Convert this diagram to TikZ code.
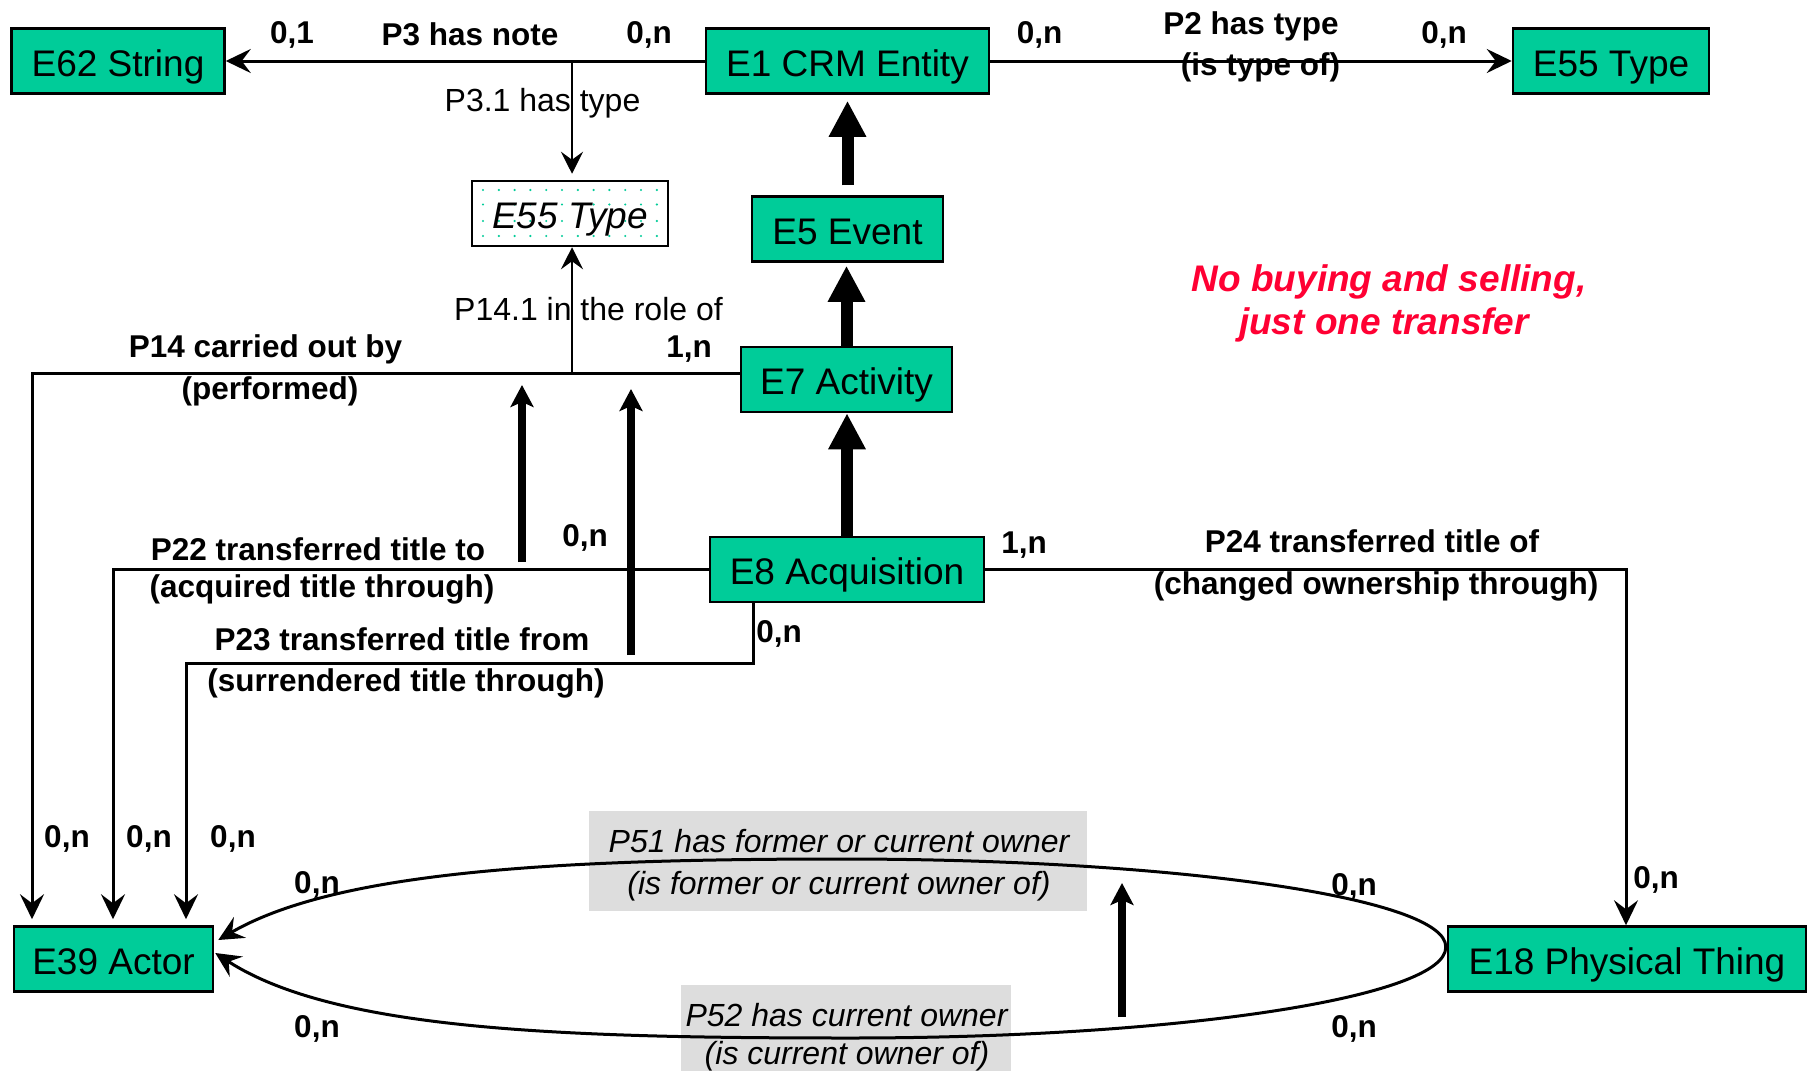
\documentclass[tikz,border=0pt]{standalone}
\usepackage{fontspec}
\setmainfont{Liberation Sans}
\usetikzlibrary{arrows.meta,calc}
\definecolor{crmgreen}{RGB}{0,204,153}
\definecolor{notered}{RGB}{255,0,51}
\definecolor{labelgray}{RGB}{221,221,221}

\begin{document}
\begin{tikzpicture}[x=1pt,y=-1pt,
  entity/.style={draw=black, line width=2.5pt, fill=crmgreen, inner sep=0pt,
    font=\fontsize{37}{44}\selectfont, text height=30pt, text depth=0pt,
    minimum height=65pt},
  typebox/.style={entity, fill=white, font=\fontsize{37}{44}\selectfont\itshape,
    path picture={
      \foreach \i in {0,...,11}
        \foreach \j in {9,23.5,40,55}
          \fill[crmgreen] ([xshift={11pt+15.8pt*\i}, yshift={-\j pt}]path picture bounding box.north west) circle[radius=1.2pt];
    }},
  graybox/.style={fill=labelgray, inner sep=0pt},
  card/.style={font=\fontsize{31.5}{38}\selectfont\bfseries, anchor=base, inner sep=0pt},
  plain/.style={font=\fontsize{32}{38}\selectfont, anchor=base, inner sep=0pt},
  ital/.style={font=\fontsize{32}{38}\selectfont\itshape, anchor=base, inner sep=0pt},
  remark/.style={font=\fontsize{37}{44}\selectfont\bfseries\itshape, text=notered, anchor=base, inner sep=0pt},
  rel/.style={line width=3pt, -{Stealth[length=25pt,width=24pt,inset=9pt]}},
  thinrel/.style={line width=1.5pt, -{Stealth[length=22pt,width=22pt,inset=8pt]}},
  isa/.style={line width=12pt, -{Triangle[length=36pt,width=35pt]}},
  pp/.style={line width=8pt, -{Stealth[length=22pt,width=23pt,inset=5pt]}}
]
\useasboundingbox (0,0) rectangle (1808,1071);

% gray label panels behind the ownership properties
\node[graybox, minimum width=498pt, minimum height=100pt] (p51box) at (838,861) {};
\node[graybox, minimum width=330pt, minimum height=90pt] (p52box) at (846,1030) {};

% classes
\node[entity, minimum width=213pt] (E62) at (118,61) {E62 String};
\node[entity, minimum width=283pt] (E1) at (847.5,61) {E1 CRM Entity};
\node[entity, minimum width=196pt] (E55) at (1611,61) {E55 Type};
\node[typebox, minimum width=196pt] (E55i) at (570,213.5) {E55 Type};
\node[entity, minimum width=191pt] (E5) at (847.5,229) {E5 Event};
\node[entity, minimum width=211pt] (E7) at (846.5,379.5) {E7 Activity};
\node[entity, minimum width=274pt] (E8) at (847,569.5) {E8 Acquisition};
\node[entity, minimum width=199pt] (E39) at (113.5,959) {E39 Actor};
\node[entity, minimum width=358pt] (E18) at (1627,959) {E18 Physical Thing};

% subclass hierarchy
\draw[isa, shorten <=10pt, shorten >=6pt] (E5.north) -- (E1.south);
\draw[isa, shorten >=3pt] (E7.north) -- (E7.north |- E5.south);
\draw[isa] (E8.north) -- (E8.north |- E7.south);

% P3 has note and P2 has type
\draw[rel] (E1.west) -- (E62.east);
\draw[rel] (E1.east) -- (E55.west);
\coordinate (p31) at (572,61);
\draw[thinrel, shorten >=6pt] (p31) -- (p31 |- E55i.north);

% P14 carried out by, with P14.1 in the role of
\coordinate (p14bend) at (32,373);
\draw[rel, shorten >=6pt] (E7.west |- p14bend) -- (p14bend) -- (p14bend |- E39.north);
\coordinate (p141) at (572,373);
\draw[thinrel] (p141) -- (p141 |- E55i.south);

% P22, P23, P24
\coordinate (p22bend) at (113,569.5);
\draw[rel, shorten >=6pt] (E8.west) -- (p22bend) -- (p22bend |- E39.north);
\coordinate (p23a) at (753,663);
\coordinate (p23b) at (186,663);
\draw[rel, shorten >=6pt] (p23a |- E8.south) -- (p23a) -- (p23b) -- (p23b |- E39.north);
\coordinate (p24bend) at (1626,569.5);
\draw[rel] (E8.east) -- (p24bend) -- (p24bend |- E18.north);

% P51 / P52 ownership loop
\coordinate (loopR) at ($(E18.west)+(-1,-12)$);
\coordinate (top51) at (842,859);
\coordinate (bot52) at (850,1038);
\draw[rel] (loopR) .. controls (1447,898) and (1176,859) .. (top51)
  .. controls (560,859) and (337,871) .. ($(E39.east)+(4,-19)$);
\draw[rel] (loopR) .. controls (1447,997) and (1180,1038) .. (bot52)
  .. controls (560,1038) and (334,1030) .. ($(E39.east)+(1,-6)$);

% property-of-property arrows
\coordinate (pp1s) at (522,562); \coordinate (pp1e) at (522,385);
\coordinate (pp2s) at (631,655); \coordinate (pp2e) at (631,389);
\coordinate (pp3s) at (1122,1017); \coordinate (pp3e) at (1122,883);
\draw[pp] (pp1s) -- (pp1e);
\draw[pp] (pp2s) -- (pp2e);
\draw[pp] (pp3s) -- (pp3e);

% labels
\node[card] (c1) at (292,43) {0,1};
\node[card] (l3) at (470,45) {P3 has note};
\node[card] (c2) at (649,43) {0,n};
\node[card] (c3) at (1039.5,43) {0,n};
\node[card] (l2a) at (1251,34) {P2 has type};
\node[card] (l2b) at (1260.5,75) {(is type of)};
\node[card] (c4) at (1444,43) {0,n};
\node[plain] (l31) at (542.5,111) {P3.1 has type};
\node[plain] (l141) at (588.5,320) {P14.1 in the role of};
\node[card] (l14a) at (265.5,357) {P14 carried out by};
\node[card] (l14b) at (270,399) {(performed)};
\node[card] (c5) at (689,357) {1,n};
\node[card] (l22a) at (318,560) {P22 transferred title to};
\node[card] (l22b) at (322,597) {(acquired title through)};
\node[card] (c6) at (585,546) {0,n};
\node[card] (l23a) at (402,650) {P23 transferred title from};
\node[card] (l23b) at (406,691) {(surrendered title through)};
\node[card] (c7) at (779,642) {0,n};
\node[card] (c8) at (1024,553) {1,n};
\node[card] (l24a) at (1372,552) {P24 transferred title of};
\node[card] (l24b) at (1376,594) {(changed ownership through)};
\node[card] (c9) at (1656,888) {0,n};
\node[card] (c10) at (1354,895) {0,n};
\node[card] (c11) at (1354,1037) {0,n};
\node[card] (c12) at (317,893) {0,n};
\node[card] (c13) at (317,1037) {0,n};
\node[card] (c14) at (67,847) {0,n};
\node[card] (c15) at (149,847) {0,n};
\node[card] (c16) at (233,847) {0,n};
\node[ital] (l51a) at (839,852) {P51 has former or current owner};
\node[ital] (l51b) at (839,894) {(is former or current owner of)};
\node[ital] (l52a) at (846.5,1026) {P52 has current owner};
\node[ital] (l52b) at (847,1064) {(is current owner of)};
\node[remark] (r1) at (1389,291) {No buying and selling,};
\node[remark] (r2) at (1384,334) {just one transfer};
\end{tikzpicture}
\end{document}
